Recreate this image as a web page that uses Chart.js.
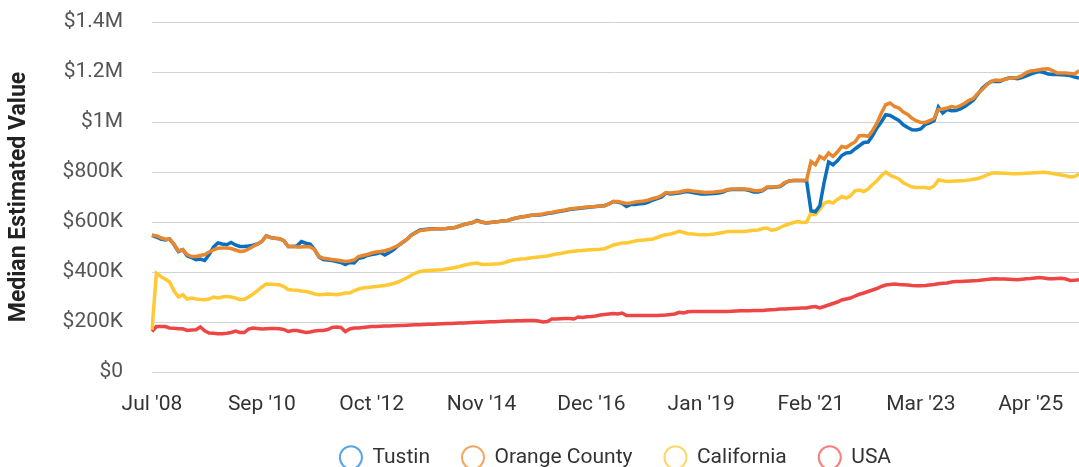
<!DOCTYPE html>
<html>
<head>
<meta charset="utf-8">
<script src="https://cdn.jsdelivr.net/npm/chart.js@4.4.1/dist/chart.umd.min.js"></script>
<style>
    html, body { margin: 0; padding: 0; background: #fff; overflow: hidden; }
    #wrap { position: relative; width: 1079px; height: 467px; }
</style>
</head>
<body>
<div id="wrap"><canvas id="valueChart"></canvas></div>
<script>
// Monthly categories, Jul '08 to Mar '26 (the source has no Aug '08 row)
const MONTH_NAMES = ['Jan', 'Feb', 'Mar', 'Apr', 'May', 'Jun', 'Jul', 'Aug', 'Sep', 'Oct', 'Nov', 'Dec'];
const months = [];
for (let y = 2008; y <= 2026; y++) {
    for (let m = 0; m < 12; m++) {
        if (y === 2008 && (m < 6 || m === 7)) continue;
        if (y === 2026 && m > 2) break;
        months.push(MONTH_NAMES[m] + " '" + String(y).slice(2));
    }
}

const tickLabels = ["Jul '08", "Sep '10", "Oct '12", "Nov '14", "Dec '16", "Jan '19", "Feb '21", "Mar '23", "Apr '25"];

// values in $K
const tustin = [
    547, 540, 532, 528, 532, 510, 482, 489, 465, 458, 449, 452,
    446, 470, 500, 516, 512, 509, 518, 508, 502, 502, 504, 507,
    512, 522, 545, 538, 535, 533, 525, 502, 502, 504, 522, 515,
    512, 490, 460, 450, 448, 446, 442, 438, 430, 438, 436, 455,
    458, 466, 470, 473, 478, 468, 478, 490, 505, 518, 530, 547,
    558, 568, 570, 572, 573, 573, 573, 574, 576, 578, 584, 590,
    594, 598, 606, 600, 596, 598, 600, 602, 605, 606, 612, 616,
    620, 622, 626, 628, 628, 630, 634, 636, 640, 643, 646, 650,
    652, 654, 656, 658, 660, 662, 664, 665, 672, 682, 680, 675,
    662, 670, 670, 673, 674, 680, 688, 694, 700, 716, 712, 714,
    716, 720, 722, 718, 715, 712, 712, 713, 714, 716, 720, 728,
    730, 730, 731, 730, 726, 720, 720, 725, 738, 738, 740, 742,
    755, 764, 766, 766, 766, 764, 645, 641, 665, 760, 840, 829,
    845, 866, 876, 878, 892, 905, 918, 920, 945, 976, 1000, 1029,
    1026, 1016, 1006, 989, 978, 969, 968, 972, 990, 996, 1005, 1060,
    1036, 1050, 1045, 1046, 1052, 1062, 1075, 1088, 1112, 1135, 1150, 1162,
    1163, 1162, 1170, 1176, 1176, 1173, 1178, 1185, 1192, 1198, 1202, 1198,
    1192, 1190, 1190, 1189, 1188, 1186, 1180, 1176
];

const orangeCounty = [
    547, 545, 537, 531, 532, 512, 484, 489, 470, 462, 462, 466,
    470, 480, 489, 495, 496, 496, 494, 488, 482, 484, 492, 502,
    512, 522, 545, 538, 535, 533, 525, 502, 502, 500, 500, 502,
    500, 490, 462, 455, 453, 450, 448, 445, 442, 444, 448, 462,
    466, 470, 476, 480, 482, 485, 490, 498, 506, 518, 530, 547,
    556, 566, 568, 570, 572, 573, 573, 574, 576, 578, 584, 590,
    594, 598, 604, 600, 596, 598, 600, 602, 605, 606, 612, 617,
    620, 623, 626, 628, 630, 632, 636, 638, 642, 645, 648, 652,
    654, 656, 658, 660, 661, 662, 664, 665, 672, 682, 682, 678,
    674, 676, 680, 682, 684, 688, 694, 698, 706, 718, 716, 718,
    720, 724, 727, 724, 722, 720, 718, 719, 720, 722, 724, 730,
    732, 732, 732, 732, 730, 726, 725, 728, 740, 740, 740, 744,
    758, 764, 766, 766, 766, 768, 842, 829, 862, 852, 876, 862,
    880, 902, 898, 910, 920, 945, 946, 943, 965, 995, 1035, 1069,
    1076, 1062, 1056, 1040, 1030, 1015, 1004, 998, 998, 1005, 1014, 1050,
    1052, 1056, 1062, 1058, 1066, 1075, 1087, 1095, 1115, 1130, 1148, 1162,
    1168, 1166, 1170, 1175, 1176, 1178, 1185, 1198, 1204, 1206, 1209, 1212,
    1213, 1206, 1196, 1196, 1196, 1194, 1192, 1205
];

const california = [
    169, 395, 382, 372, 360, 325, 300, 309, 292, 296, 292, 290,
    289, 292, 300, 296, 300, 302, 300, 296, 289, 291, 300, 312,
    325, 340, 352, 351, 350, 349, 342, 330, 328, 327, 324, 322,
    318, 312, 309, 310, 312, 311, 309, 312, 316, 316, 325, 332,
    336, 338, 340, 342, 344, 346, 350, 354, 360, 368, 377, 387,
    396, 402, 405, 406, 407, 408, 409, 412, 415, 418, 422, 427,
    431, 434, 436, 430, 430, 431, 432, 433, 436, 442, 447, 450,
    452, 453, 456, 458, 460, 462, 464, 468, 472, 474, 478, 481,
    483, 485, 486, 488, 489, 490, 491, 493, 500, 508, 512, 516,
    516, 520, 524, 527, 528, 530, 532, 538, 545, 549, 552, 557,
    563, 558, 553, 552, 550, 549, 549, 550, 552, 555, 558, 562,
    562, 562, 562, 562, 565, 567, 568, 574, 576, 567, 570, 578,
    586, 592, 598, 602, 598, 600, 636, 630, 650, 675, 682, 676,
    690, 702, 696, 705, 725, 728, 722, 732, 750, 765, 785, 800,
    787, 780, 772, 757, 748, 740, 738, 738, 738, 734, 744, 768,
    765, 762, 763, 764, 765, 766, 768, 771, 774, 780, 788, 795,
    797, 796, 795, 794, 793, 793, 794, 795, 796, 797, 798, 799,
    797, 794, 791, 788, 785, 780, 782, 792
];

const usa = [
    162, 182, 182, 182, 176, 175, 173, 173, 166, 168, 169, 180,
    165, 156, 155, 153, 153, 155, 158, 164, 158, 158, 172, 176,
    174, 172, 173, 174, 174, 173, 170, 162, 166, 166, 162, 158,
    160, 164, 166, 166, 170, 178, 180, 178, 162, 172, 176, 176,
    178, 180, 182, 182, 183, 184, 184, 185, 186, 186, 187, 188,
    189, 189, 190, 191, 191, 192, 193, 194, 194, 195, 196, 196,
    197, 198, 199, 199, 200, 201, 201, 202, 203, 204, 204, 205,
    205, 206, 206, 206, 204, 200, 202, 212, 212, 213, 214, 214,
    212, 220, 218, 221, 222, 224, 228, 230, 232, 234, 232, 236,
    226, 226, 226, 226, 226, 226, 226, 226, 227, 228, 230, 232,
    239, 236, 241, 242, 242, 242, 242, 242, 242, 242, 242, 242,
    243, 244, 245, 245, 245, 246, 246, 246, 248, 249, 250, 252,
    252, 253, 254, 255, 256, 256, 260, 262, 256, 262, 268, 274,
    280, 288, 292, 296, 304, 311, 316, 322, 328, 334, 342, 348,
    350, 352, 350, 349, 348, 346, 345, 345, 346, 348, 350, 353,
    355, 356, 360, 362, 362, 363, 364, 365, 366, 368, 370, 372,
    373, 372, 372, 371, 370, 369, 371, 373, 374, 376, 378, 376,
    373, 373, 374, 375, 372, 366, 367, 369
];

const seriesNames = ['Tustin', 'Orange County', 'California', 'USA'];
const lineColors = ['#0b6fbf', '#e8872d', '#ffc935', '#ee4545'];
const legendColors = ['#5aa6e3', '#f2a863', '#ffd766', '#f28080'];

Chart.defaults.font.family = 'Roboto, "Open Sans", sans-serif';

const ctx = document.getElementById('valueChart');
const seriesData = [tustin, orangeCounty, california, usa];
// orange county line sits on top of the Tustin line
const drawOrder = [2, 1, 3, 4];

new Chart(ctx, {
    type: 'line',
    data: {
        labels: months,
        datasets: seriesNames.map((name, i) => ({
            label: name,
            data: seriesData[i],
            borderColor: lineColors[i],
            backgroundColor: 'rgba(0,0,0,0)',
            borderWidth: 3.5,
            pointRadius: 0,
            tension: 0,
            order: drawOrder[i]
        }))
    },
    options: {
        responsive: true,
        maintainAspectRatio: false,
        animation: false,
        layout: { autoPadding: false, padding: { top: 22, left: 1, right: 0, bottom: -11 } },
        plugins: {
            tooltip: { enabled: false },
            legend: {
                position: 'bottom',
                fullSize: false,
                labels: {
                    usePointStyle: true,
                    pointStyleWidth: 22,
                    boxHeight: 16,
                    padding: 32,
                    color: '#333',
                    font: { size: 21 },
                    sort: (a, b) => a.datasetIndex - b.datasetIndex,
                    generateLabels: (chart) => {
                        const items = Chart.defaults.plugins.legend.labels.generateLabels(chart);
                        items.forEach(item => {
                            item.strokeStyle = legendColors[item.datasetIndex];
                            item.fillStyle = 'rgba(0,0,0,0)';
                            item.lineWidth = 2;
                            item.pointStyle = 'circle';
                        });
                        return items;
                    }
                }
            }
        },
        scales: {
            x: {
                grid: { display: false, drawTicks: false },
                border: { display: false },
                ticks: {
                    autoSkip: false,
                    maxRotation: 0,
                    minRotation: 0,
                    padding: 20,
                    color: '#333',
                    font: { size: 21 },
                    callback: function (value) {
                        const label = this.getLabelForValue(value);
                        return tickLabels.includes(label) ? label : '';
                    }
                },
                afterFit: (scale) => {
                    scale.height = 43;
                    scale.paddingLeft = 0;
                    scale.paddingRight = 0;
                }
            },
            y: {
                min: 0,
                max: 1400,
                grid: { color: '#d2d2d2', lineWidth: 1, drawTicks: false },
                border: { display: false },
                ticks: {
                    stepSize: 200,
                    padding: 29,
                    color: '#555',
                    font: { size: 21 },
                    callback: (v) => v === 0 ? '$0' : (v >= 1000 ? '$' + (v / 1000) + 'M' : '$' + v + 'K')
                },
                title: {
                    display: true,
                    text: 'Median Estimated Value',
                    color: '#222',
                    font: { size: 23, weight: 'bold' }
                },
                afterFit: (scale) => {
                    scale.width = 151;
                    scale.paddingTop = 0;
                    scale.paddingBottom = 0;
                }
            }
        }
    }
});
</script>
</body>
</html>
